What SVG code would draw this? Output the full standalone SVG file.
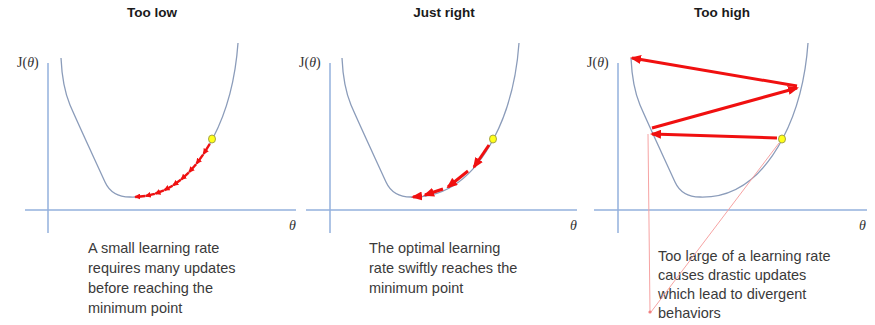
<svg xmlns="http://www.w3.org/2000/svg" width="875" height="325" viewBox="0 0 875 325">
<style>
.title{font-family:"Liberation Sans",Arial,sans-serif;font-weight:bold;font-size:13.5px;fill:#1a1a1a;text-anchor:middle}
.cap{font-family:"Liberation Sans",Arial,sans-serif;font-size:14.5px;fill:#3a3a3a}
.jl{font-family:"Liberation Serif","DejaVu Serif",serif;font-size:14px;fill:#333}
.th{font-family:"Liberation Serif","DejaVu Serif",serif;font-style:italic;font-size:14px;fill:#333}
.axis{stroke:#93b0dc;stroke-width:1.5;fill:none}
.curve{stroke:#8b9cba;stroke-width:1.3;fill:none}
.dot{fill:#ffff1a;stroke:#a5a545;stroke-width:1}
.big{stroke:#f01010;stroke-width:3;fill:none;marker-end:url(#bh)}
.small{stroke:#f01010;stroke-width:2.4;fill:none;marker-end:url(#sh)}
.pink{stroke:#f6a3a3;stroke-width:1;fill:none}
</style>
<defs>
<marker id="bh" markerUnits="userSpaceOnUse" markerWidth="11" markerHeight="9" refX="9" refY="4.5" orient="auto">
<path d="M0,0 L11,4.5 L0,9 z" fill="#f01010"/>
</marker>
<marker id="sh" markerUnits="userSpaceOnUse" markerWidth="6" markerHeight="6" refX="5" refY="3" orient="auto">
<path d="M0,0 L6,3 L0,6 z" fill="#f01010"/>
</marker>
<path id="cv" class="curve" d="M61,58 C62,80 65,93 70,105 C80,128 95,160 105,182 C110,193 118,197 130,197 C165,198 192,178 213,138 C225,115 235,85 238,43"/>
</defs>

<g id="panel-low">
<text class="title" x="152" y="17">Too low</text>
<line class="axis" x1="48" y1="63" x2="48" y2="233"/>
<line class="axis" x1="25" y1="210" x2="296" y2="210"/>
<text class="jl" x="17" y="67">J(<tspan font-style="italic">θ</tspan>)</text>
<text class="th" x="289" y="230">θ</text>
<use href="#cv"/>
<text class="cap" x="88" y="253">A small learning rate</text>
<text class="cap" x="88" y="273">requires many updates</text>
<text class="cap" x="88" y="293">before reaching the</text>
<text class="cap" x="88" y="313">minimum point</text>
</g>

<g id="panel-right">
<text class="title" x="444" y="17">Just right</text>
<line class="axis" x1="330" y1="63" x2="330" y2="233"/>
<line class="axis" x1="306" y1="210" x2="577" y2="210"/>
<text class="jl" x="299" y="67">J(<tspan font-style="italic">θ</tspan>)</text>
<text class="th" x="570" y="230">θ</text>
<use href="#cv" transform="translate(281,0)"/>
<text class="cap" x="369" y="253">The optimal learning</text>
<text class="cap" x="369" y="273">rate swiftly reaches the</text>
<text class="cap" x="369" y="293">minimum point</text>
</g>

<g id="panel-high">
<text class="title" x="722" y="17">Too high</text>
<line class="axis" x1="618" y1="63" x2="618" y2="233"/>
<line class="axis" x1="594" y1="210" x2="867" y2="210"/>
<text class="jl" x="587" y="67">J(<tspan font-style="italic">θ</tspan>)</text>
<text class="th" x="859" y="230">θ</text>
<use href="#cv" transform="translate(570,0)"/>
<text class="cap" x="658" y="261">Too large of a learning rate</text>
<text class="cap" x="658" y="280">causes drastic updates</text>
<text class="cap" x="658" y="299">which lead to divergent</text>
<text class="cap" x="658" y="318">behaviors</text>
</g>

<g id="connectors">
<path class="small" d="M209.8,143.9 L203.6,153.8"/>
<path class="small" d="M203.1,154.6 L196.6,163.5"/>
<path class="small" d="M196.1,164.2 L189.2,172"/>
<path class="small" d="M188.7,172.6 L181.3,179.3"/>
<path class="small" d="M180.8,179.8 L173.2,185.3"/>
<path class="small" d="M172.6,185.7 L164.5,190.1"/>
<path class="small" d="M163.9,190.4 L155.4,193.6"/>
<path class="small" d="M154.8,193.8 L145.8,195.9"/>
<path class="small" d="M145.2,196 L135.2,197"/>
<path class="big" d="M489,145 L474,167"/>
<path class="big" d="M468,171 L448,187"/>
<path class="big" d="M443,189 L425,195"/>
<path class="big" d="M422,196 L413,197"/>
<path class="big" d="M777,138 L652,134"/>
<path class="big" d="M652,128 L797,88"/>
<path class="big" d="M797,86 L632,58"/>
<path class="pink" d="M648,134 L650,312"/>
<path class="pink" d="M779,143 L651,312"/>
<circle cx="650" cy="312" r="1.6" fill="#f08080"/>
</g>

<g id="dots">
<ellipse class="dot" cx="212" cy="139" rx="3.5" ry="4"/>
<ellipse class="dot" cx="493" cy="139" rx="3.5" ry="4"/>
<ellipse class="dot" cx="782" cy="139" rx="3.5" ry="4"/>
</g>
</svg>
